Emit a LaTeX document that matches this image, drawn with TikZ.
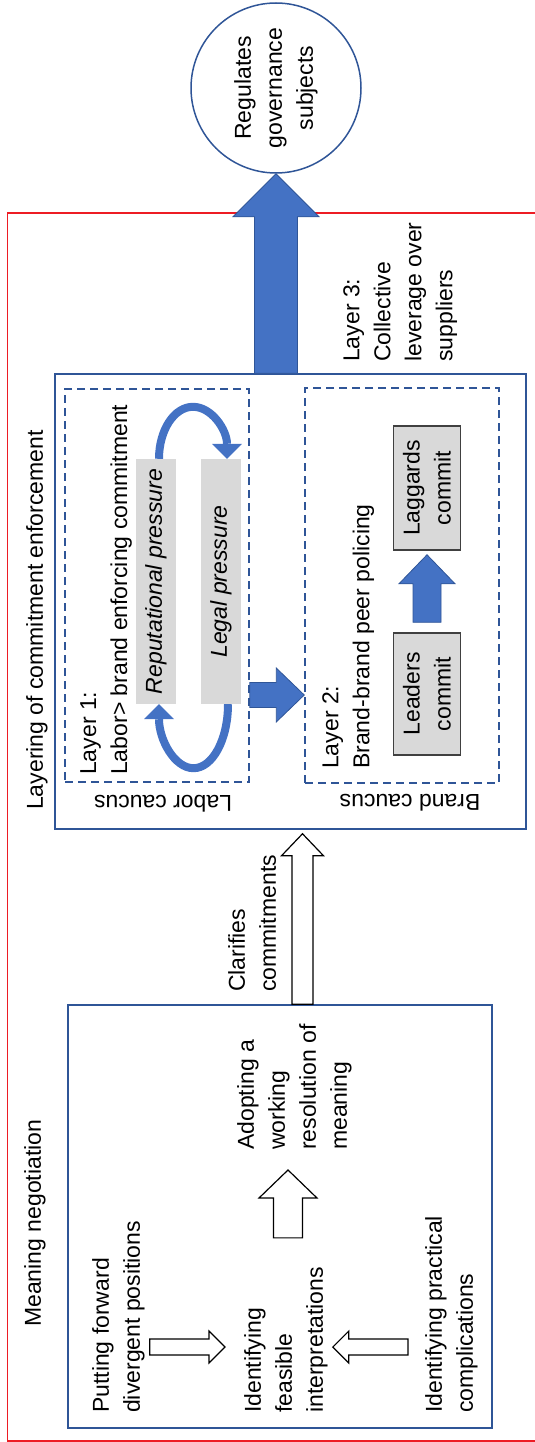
\documentclass[tikz,border=0pt]{standalone}
\usepackage{fontspec}
\setmainfont{Liberation Sans}
\usetikzlibrary{arrows.meta,calc}

\definecolor{boxblue}{RGB}{47,85,151}
\definecolor{arrowblue}{RGB}{68,114,196}
\definecolor{boxgray}{RGB}{217,217,217}
\definecolor{framegray}{RGB}{64,64,64}
\definecolor{framered}{RGB}{237,28,36}

% block arrow: [style]{from}{to}{shaft half width}{head half width}{head length}
\newcommand{\blockarrow}[6][]{%
  \path[#1] let \p1=(#2), \p2=(#3),
    \n1={atan2(\y2-\y1,\x2-\x1)}, \n2={veclen(\x2-\x1,\y2-\y1)} in
    [shift={(\p1)}, rotate=\n1]
    (0,-#4) -- (\n2-#6,-#4) -- (\n2-#6,-#5) -- (\n2,0)
    -- (\n2-#6,#5) -- (\n2-#6,#4) -- (0,#4) -- cycle;}

\begin{document}
\begin{tikzpicture}[x=1pt, y=1pt, font=\fontsize{23}{31}\selectfont,
    bluebox/.style={draw=boxblue, line width=1.5pt},
    dashbox/.style={draw=boxblue, line width=1.5pt, dash pattern=on 8pt off 5pt},
    txt/.style={rotate=90, anchor=north west, align=left, inner sep=0pt},
    graybox/.style={rotate=90, fill=boxgray, align=center, inner sep=0pt},
    grayframe/.style={graybox, draw=framegray, line width=1.5pt},
    openarrow/.style={draw=black, fill=white, line width=1.2pt},
    solidarrow/.style={fill=arrowblue, draw=boxblue, line width=0.8pt},
    curvy/.style={draw=arrowblue, line width=8pt,
      -{Triangle[width=30pt, length=15pt, line width=0pt]}}]
  \useasboundingbox (0,0) rectangle (535,-1442);

  \draw[framered, line width=1.5pt] (545,-213) -- (7.5,-213) -- (7.5,-1441) -- (545,-1441); % outer frame

  % boxes
  \node[bluebox, minimum width=424pt, minimum height=423pt] (neg) at (280,-1216.5) {};
  \node[bluebox, minimum width=471pt, minimum height=455pt] (lay) at (290.5,-601.5) {};
  \node[dashbox, minimum width=184pt, minimum height=393pt] (labor) at (157,-585.5) {};
  \node[dashbox, minimum width=194pt, minimum height=395pt] (brand) at (402,-585.5) {};

  % texts
  \node[txt] (negtitle) at (24,-1327) {Meaning negotiation};
  \node[txt] (laytitle) at (26,-810) {Layering of commitment enforcement};
  \node[txt] (put) at (92,-1413) {Putting forward\\divergent positions};
  \node[txt] (feas) at (244,-1413) {Identifying\\feasible\\interpretations};
  \node[txt] (prac) at (425,-1413) {Identifying practical\\complications};
  \node[txt] (adopt) at (237,-1150) {Adopting a\\working\\resolution of\\meaning};
  \node[txt] (clar) at (228,-992) {Clarifies\\commitments};
  \node[txt] (layer1) at (80,-775) {Layer 1:\\Labor> brand enforcing commitment};
  \node[txt] (layer2) at (322,-769) {Layer 2:\\Brand-brand peer policing};
  \node[txt] (layer3) at (343,-362) {Layer 3:\\Collective\\leverage over\\suppliers};
  \node[rotate=180] (laborcap) at (163,-804) {Labor caucus};
  \node[rotate=180] (brandcap) at (410,-803) {Brand caucus};

  % gray boxes
  \node[graybox, minimum width=245pt, minimum height=40pt] (rep) at (156,-581.5) {\itshape Reputational pressure};
  \node[graybox, minimum width=245pt, minimum height=40pt] (legal) at (221,-581.5) {\itshape Legal pressure};
  \node[grayframe, minimum width=122pt, minimum height=67pt] (leaders) at (427,-694) {Leaders\\commit};
  \node[grayframe, minimum width=124pt, minimum height=67pt] (laggards) at (427,-488) {Laggards\\commit};

  % circle
  \node[draw=boxblue, line width=1.5pt, circle, minimum size=170pt, rotate=90, align=center, inner sep=0pt] (reg) at (276,-88) {Regulates\\governance\\subjects};

  % arrow axes
  \coordinate (axC) at (302.5,0);
  \coordinate (axLB) at (0,-695);
  \coordinate (axW) at (0,-1347);
  \coordinate (axU) at (288,0);

  % arrows
  \blockarrow[solidarrow]{lay.north -| reg.center}{reg.west}{21.5}{43}{43};
  \blockarrow[openarrow]{neg.north -| axC}{$(lay.south -| axC)+(0,-4)$}{10.5}{21}{22};
  \blockarrow[solidarrow]{labor.east |- axLB}{brand.west |- axLB}{12.5}{27}{28};
  \blockarrow[solidarrow]{$(leaders.east)+(0,10)$}{$(laggards.west)+(0,-4)$}{14}{28}{29};
  \blockarrow[openarrow]{$(put.south |- axW)+(5,0)$}{$(feas.north |- axW)+(-19,0)$}{8}{16}{16};
  \blockarrow[openarrow]{$(prac.north |- axW)+(-17,0)$}{$(feas.south |- axW)+(5,0)$}{8}{16}{16};
  \blockarrow[openarrow]{$(feas.east -| axU)+(0,29)$}{$(adopt.west -| axU)+(0,-20)$}{14.5}{29}{28};

  \draw[curvy] ([xshift=3pt]rep.east) arc[start angle=180, end angle=0, x radius=34, y radius=52];
  \draw[curvy] ([xshift=7pt]legal.west) arc[start angle=0, end angle=-180, x radius=34.5, y radius=64];
\end{tikzpicture}
\end{document}
